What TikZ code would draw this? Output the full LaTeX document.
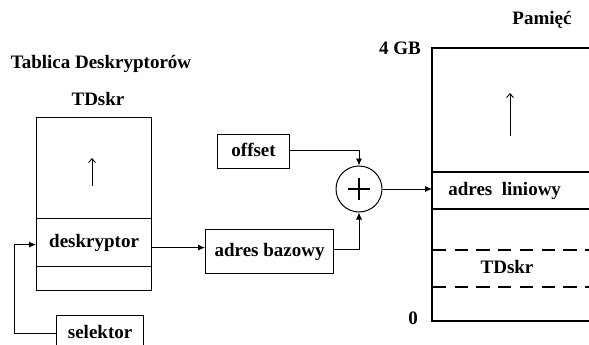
\documentclass[tikz,border=0pt]{standalone}
\usepackage{fontspec}
\setmainfont{Liberation Serif}
\usetikzlibrary{arrows.meta,calc}
\begin{document}
\begin{tikzpicture}[x=1pt,y=-1pt,
  lbl/.style={font=\fontsize{19}{22}\selectfont\bfseries,text height=13pt,text depth=4pt,inner sep=0pt},
  cell/.style={draw,line width=1.2pt,minimum width=115pt,anchor=north west,lbl},
  bx/.style={draw,line width=1.2pt,anchor=north west,lbl},
  arr/.style={line width=0.9pt,-{Latex[length=7pt,width=6pt]}},
  uparr/.style={line width=0.9pt,-{Straight Barb[length=4pt,width=7pt]}},
  memline/.style={line width=1.2pt},
  memdash/.style={line width=1.6pt,dash pattern=on 13.3pt off 8.4pt}]
\useasboundingbox (0,0) rectangle (589,345);
\clip (0,0) rectangle (589,345);
% titles
\node[lbl,anchor=base] (title) at (101,69) {Tablica Deskryptorów};
\node[lbl,anchor=base] (tdname) at (98,105) {TDskr};
\node[lbl,anchor=base] (pam) at (542,25) {Pamięć};
\node[lbl,anchor=base east] (gb) at (421,55) {4 GB};
\node[lbl,anchor=base] (zero) at (413,324) {0};
% descriptor table
\node[cell,minimum height=101pt] (tdtop) at (36,117) {};
\node[cell,minimum height=48pt] (desk) at (36,218) {deskryptor};
\node[cell,minimum height=24pt] (tdbot) at (36,266) {};
\draw[uparr] (92,186) -- (92,158);
% boxes
\node[bx,minimum width=87pt,minimum height=36pt] (sel) at (56,315) {selektor};
\node[bx,minimum width=72pt,minimum height=34pt] (off) at (217,134) {offset};
\node[bx,minimum width=128pt,minimum height=44pt] (adr) at (205,229) {adres bazowy};
% adder
\node[draw,circle,line width=1pt,minimum size=46pt,inner sep=0pt] (plus) at (359,189) {};
\draw[line width=1.2pt] ($(plus.center)+(-11,0)$) -- ($(plus.center)+(11,0)$);
\draw[line width=1.2pt] ($(plus.center)+(0,-11)$) -- ($(plus.center)+(0,11)$);
% memory
\draw[memline] (600,48) -- (432,48) -- (432,321) -- (600,321);
\draw[memline] (432,172) -- (600,172);
\draw[memline] (432,209) -- (600,209);
\draw[memdash] (433,250) -- (600,250);
\draw[memdash] (433,287) -- (600,287);
\node[lbl,minimum width=145pt,minimum height=37pt,anchor=west] (lin) at (432,190.5) {adres\ \ liniowy};
\node[lbl,anchor=base] (mtd) at (507,273) {TDskr};
\draw[uparr] (510,136) -- (510,93);
% connectors
\draw[arr] (sel.west) -- ++(-42,0) |- ([yshift=-2pt]desk.west);
\draw[arr] ([yshift=-5pt]desk.east) -- ([yshift=-5pt]desk.east -| adr.west);
\draw[arr] ([yshift=2pt]adr.east) -| (plus.south);
\draw[arr] ([yshift=1pt]off.east) -| (plus.north);
\draw[arr] (plus.east) -- (plus.east -| lin.west);
\end{tikzpicture}
\end{document}
